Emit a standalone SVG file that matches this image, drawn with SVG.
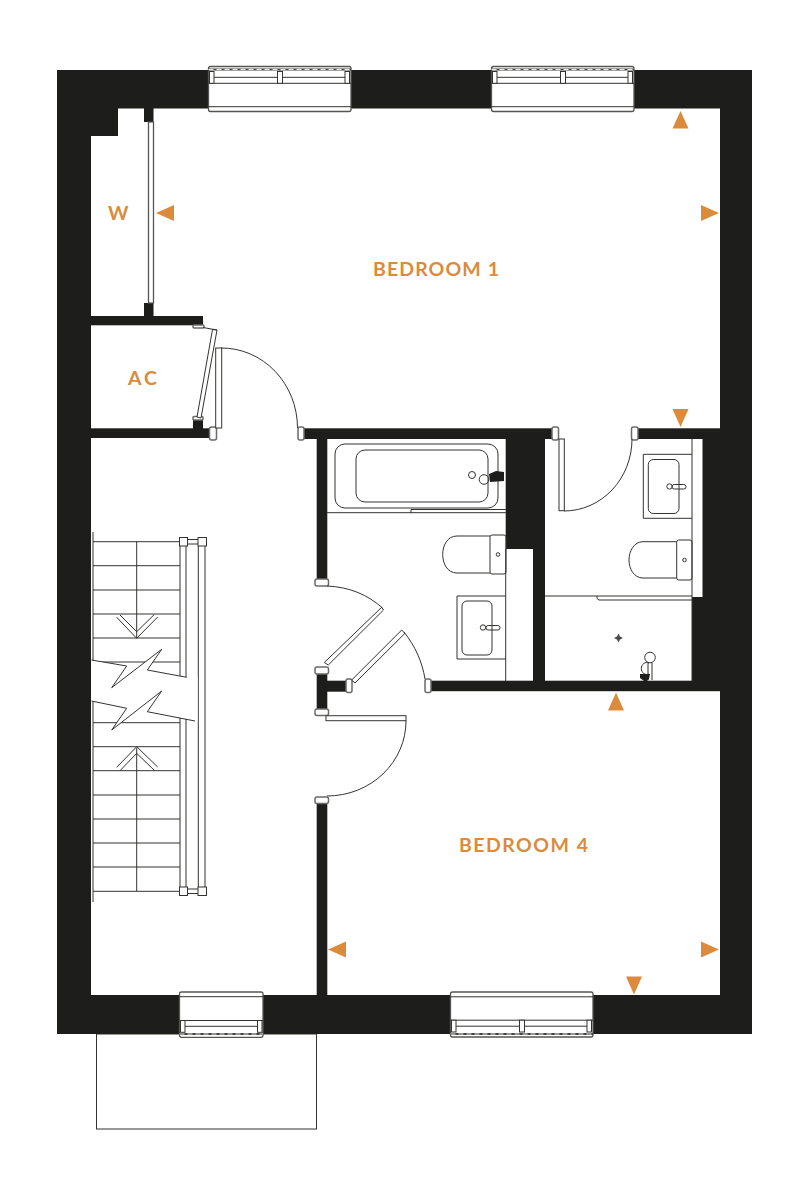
<svg xmlns="http://www.w3.org/2000/svg" xmlns:xlink="http://www.w3.org/1999/xlink" width="800" height="1203" viewBox="0 0 800 1203">
<style>
.w{fill:#1d1d1b}
.l{fill:none;stroke:#333331;stroke-width:1}
.f{fill:#fff;stroke:#333331;stroke-width:1}
.g{fill:#fff;stroke:#555553;stroke-width:1.3}
.c{fill:#fff;stroke:#6a6a68;stroke-width:1.5}
.o{fill:#dc8a3c}
.t{font-family:"Lato","Liberation Sans",sans-serif;font-weight:700;fill:#dc8a3c;font-size:19.5px}
</style>
<defs>
<g id="win">
<rect class="g" x="208.5" y="66.5" width="142.5" height="45" rx="2"/>
<path class="l" d="M208.5 83.3H351M214 77.3H345M208.5 106.7H351"/>
<path d="M208.5 69.5H351" stroke="#444442" stroke-width="1.8" fill="none"/>
<path d="M208.5 69.5H351" stroke="#fff" stroke-width=".9" stroke-dasharray="5 3" fill="none"/>
<rect class="f" x="209.5" y="71.5" width="4.5" height="11.8"/>
<rect class="f" x="345" y="71.5" width="4.5" height="11.8"/>
<rect class="f" x="277.5" y="71.5" width="5" height="11.8"/>
</g>
<path id="ar" class="o" d="M0 -8L18 0L0 8Z"/>
</defs>
<rect width="800" height="1203" fill="#fff"/>

<g id="terrace"><rect class="l" x="96.5" y="1034" width="220" height="95"/></g>

<g id="walls" class="w">
<rect x="57" y="70" width="695" height="38.5"/>
<rect x="57" y="70" width="34" height="964"/>
<rect x="720" y="70" width="32" height="964"/>
<rect x="57" y="995" width="695" height="39"/>
<rect x="91" y="108" width="27" height="28"/>
<rect x="144" y="108" width="9.5" height="14"/>
<rect x="144" y="303" width="9.5" height="14"/>
<rect x="91" y="316" width="112" height="9.3"/>
<rect x="91" y="428.3" width="122" height="9.7"/>
<rect x="193" y="418" width="10" height="11"/>
<rect x="302" y="428.3" width="250" height="10.7"/>
<rect x="637" y="428.3" width="84" height="10.7"/>
<rect x="316.7" y="439" width="10.6" height="141"/>
<rect x="505.7" y="439" width="39.3" height="110"/>
<rect x="533" y="549" width="12" height="142"/>
<rect x="702.5" y="439" width="18" height="158"/>
<rect x="692" y="597" width="28" height="84"/>
<rect x="431" y="680.7" width="289" height="10.5"/>
<rect x="316.7" y="668" width="10.6" height="45"/>
<rect x="327" y="680.7" width="19" height="11"/>
<rect x="316.7" y="800" width="10.6" height="195"/>
</g>

<g id="caps">
<rect class="c" x="209.5" y="427" width="7" height="13" rx="2"/>
<rect class="c" x="298" y="427" width="6" height="13" rx="2"/>
<rect class="c" x="552" y="427" width="6.5" height="13" rx="2"/>
<rect class="c" x="631.5" y="427" width="6.5" height="13" rx="2"/>
<rect class="c" x="425" y="679" width="6" height="13.5" rx="2"/>
<rect class="c" x="346" y="679" width="6" height="13.5" rx="2"/>
<rect class="c" x="315" y="579" width="13.5" height="7" rx="2"/>
<rect class="c" x="315" y="667" width="13.5" height="7" rx="2"/>
<rect class="c" x="315" y="709" width="13.5" height="6.5" rx="2"/>
<rect class="c" x="315" y="797" width="13.5" height="6.5" rx="2"/>
<rect class="c" x="193" y="416.5" width="10" height="3.5" rx="1"/>
<rect class="c" x="193" y="325" width="11" height="3" rx="1"/>
</g>

<g id="windows">
<use xlink:href="#win" href="#win"/>
<use xlink:href="#win" href="#win" transform="translate(283 0)"/>
<use xlink:href="#win" href="#win" transform="translate(242 1103.5) scale(1 -1)"/>
<g id="win-small">
<rect class="g" x="179.5" y="992" width="83.5" height="45.3" rx="2"/>
<path class="l" d="M179.5 996.7H263M179.5 1020.5H263M185 1026.3H257.5"/>
<path d="M179.5 1034H263" stroke="#444442" stroke-width="1.8" fill="none"/>
<path d="M179.5 1034H263" stroke="#fff" stroke-width=".9" stroke-dasharray="5 3" fill="none"/>
<rect class="f" x="180.5" y="1020.5" width="4.5" height="11.8"/>
<rect class="f" x="257.5" y="1020.5" width="4.5" height="11.8"/>
</g>
</g>

<g id="wardrobe">
<rect class="g" x="148.5" y="122" width="5" height="181"/>
</g>

<g id="doors">
<path class="f" d="M197 417L212.5 329.5L217 330L201 418Z"/>
<path class="l" d="M203 327.5L217 330"/>
<rect class="f" x="215.7" y="348" width="6" height="80"/>
<path class="l" d="M221 348A76 80 0 0 1 297.5 428"/>
<path class="f" d="M381.7 607.3L383.5 610L328.3 665L324.3 662.5Z"/>
<path class="l" d="M327 586C350 587 368 595 382.5 608"/>
<path class="f" d="M401.7 630L405 633.3L355 683L351.7 680Z"/>
<path class="l" d="M404 632C415 646 422 661 425 679"/>
<rect class="f" x="326" y="715.7" width="80" height="5"/>
<path class="l" d="M406 720.7A79 75 0 0 1 327 796"/>
<rect class="f" x="559" y="439" width="5.3" height="71.7"/>
<path class="l" d="M564 511A68 72 0 0 0 632 439"/>
</g>

<g id="stairs">
<path class="l" d="M93 532V902"/>
<path class="l" d="M93 541.7H180M93 565.7H180M93 590H180M93 614H180M93 638H180M93 662H180M93 722.7H180M93 746.7H180M93 770.7H180M93 795H180M93 819H180M93 843H180M93 867H180M93 891.3H180"/>
<path class="l" d="M136.7 541.7V638M136.7 748V891"/>
<path class="l" d="M116.7 617.3L136.7 638.3L157.7 617M120 615L136.7 631.7L154.3 614.5M116.7 767.3L136.7 746.7L157.7 767M119.7 771L136.7 753.3L155 771"/>
<path class="l" d="M180 546V887M186 546V887M198.3 546V887M205 546V887"/>
<path d="M91 660L126.7 666L111.7 687.7L161.7 649.3L147.3 670L186.7 677.3L197.5 677.3V721L147.3 711.7L161.7 691L111.7 730L126.7 708.3L91 701Z" fill="#fff"/>
<path class="l" d="M91.5 660L126.7 666L111.7 687.7L161.7 649.3L147.3 670L186.7 677.3M91.5 701L126.7 708.3L111.7 730L161.7 691L147.3 711.7L195 721"/>
<path class="l" d="M187 539.5H198M187 544H198M187 889H198M187 893.5H198"/>
<rect class="f" x="179.5" y="537.5" width="8" height="8.5"/>
<rect class="f" x="198" y="537.5" width="8.5" height="8.5"/>
<rect class="f" x="179.5" y="887" width="8" height="8.5"/>
<rect class="f" x="198" y="887" width="8.5" height="8.5"/>
</g>

<g id="bathroom">
<rect class="l" x="335" y="444" width="163" height="64" rx="10"/>
<rect class="l" x="356" y="450" width="132" height="52" rx="9"/>
<path class="l" d="M327 512.7H506M411 512.7V509.5H506"/>
<circle class="l" cx="472" cy="475" r="3.5" stroke-width="1.6"/>
<circle class="l" cx="484" cy="479.5" r="4.8"/>
<path class="w" d="M489 474L496 471L504 472V481L490 482Z"/>
<path class="l" d="M505.7 549V681"/>
<path class="l" d="M490 536H457C447 536 442.7 546 442.7 554.5C442.7 563 447 573 457 573H490"/>
<rect class="l" x="490" y="535" width="16" height="39" rx="2"/>
<circle class="l" cx="498" cy="554.5" r="1.8"/>
<path class="l" d="M505.7 596H457V659H505.7"/>
<rect class="l" x="462" y="601" width="30" height="54" rx="5"/>
<circle class="l" cx="483" cy="627.5" r="2.7"/>
<rect class="l" x="486" y="625.5" width="14" height="4.5" rx="2.2"/>
</g>

<g id="ensuite">
<path class="l" d="M692 439V681M545 596H692M597 596V598.5L599 600H692"/>
<path class="l" d="M692 454.3H643.3V518.3H692"/>
<rect class="l" x="648.3" y="459.5" width="30.7" height="54" rx="5"/>
<circle class="l" cx="669.5" cy="486.5" r="2.7"/>
<rect class="l" x="672" y="484.5" width="14" height="4.5" rx="2.2"/>
<path class="l" d="M676.7 541.7H643C634 541.7 629 551 629 560C629 569 634 578 643 578H676.7"/>
<rect class="l" x="676.7" y="540" width="15.3" height="40" rx="2"/>
<circle class="l" cx="684.5" cy="560" r="1.8"/>
<path d="M618.5 633.5L620 636.5L623 638L620 639.5L618.5 642.5L617 639.5L614 638L617 636.5Z" fill="#4a4a48"/>
<circle class="l" cx="650" cy="657.5" r="5.3"/>
<path class="l" d="M649 663A5.5 6 0 1 0 649 674M648 663V680M652 663V680"/>
<path class="w" d="M640 674H650L649 679L647 681H644L640 678Z"/>
</g>

<g id="view-markers">
<path class="o" d="M680.5 111L688.5 128.5H672.5Z"/>
<path class="o" d="M680.5 427L672.5 409H688.5Z"/>
<path class="o" d="M616 692.5L624 710.5H608Z"/>
<path class="o" d="M634 994.5L626 976.5H642Z"/>
<use xlink:href="#ar" href="#ar" transform="translate(701 213)"/>
<use xlink:href="#ar" href="#ar" transform="translate(701 949.5)"/>
<use xlink:href="#ar" href="#ar" transform="translate(174 213) scale(-1 1)"/>
<use xlink:href="#ar" href="#ar" transform="translate(346 949.5) scale(-1 1)"/>
</g>

<g id="labels">
<text class="t" x="373" y="276" textLength="126" lengthAdjust="spacing">BEDROOM 1</text>
<text class="t" x="459" y="852" textLength="129" lengthAdjust="spacing">BEDROOM 4</text>
<text class="t" x="108" y="220">W</text>
<text class="t" x="128" y="385" textLength="29" lengthAdjust="spacing">AC</text>
</g>
</svg>
